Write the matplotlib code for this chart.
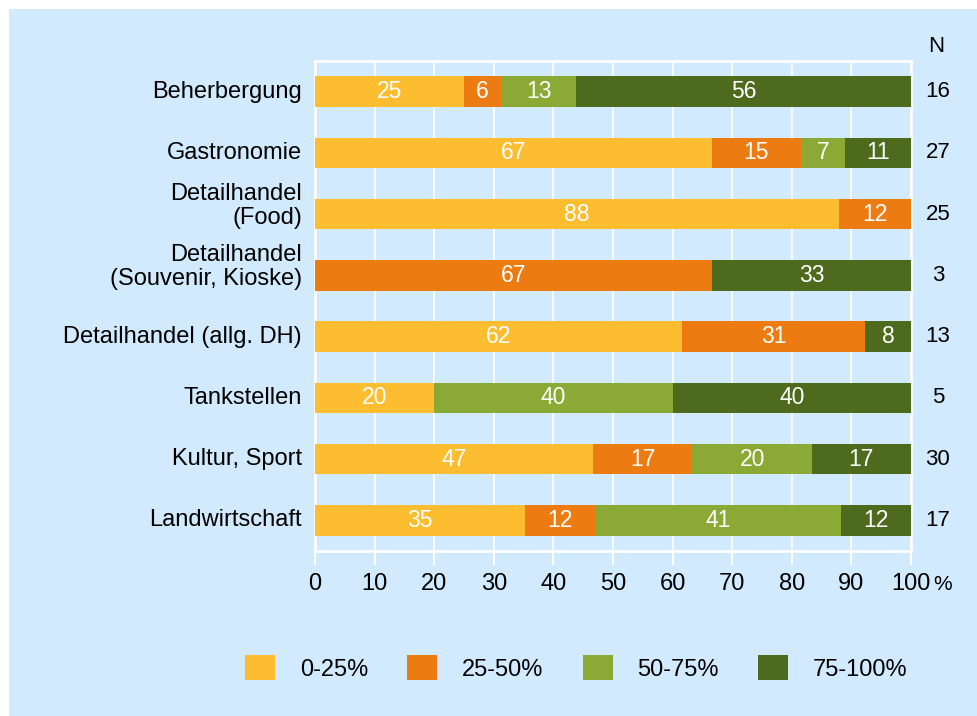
import matplotlib
matplotlib.use('Agg')
import matplotlib.pyplot as plt
from matplotlib.patches import Rectangle, Patch
import matplotlib.transforms as mtransforms
import numpy as np

# answers per category (counts), N = number of respondents
categories = ['Beherbergung', 'Gastronomie', 'Detailhandel\n(Food)',
              'Detailhandel\n(Souvenir, Kioske)', 'Detailhandel (allg. DH)',
              'Tankstellen', 'Kultur, Sport', 'Landwirtschaft']
n_total = [16, 27, 25, 3, 13, 5, 30, 17]
count_0_25 = [4, 18, 22, 0, 8, 1, 14, 6]
count_25_50 = [1, 4, 3, 2, 4, 0, 5, 2]
count_50_75 = [2, 2, 0, 0, 0, 2, 6, 7]
count_75_100 = [9, 3, 0, 1, 1, 2, 5, 2]
series_labels = ['0-25%', '25-50%', '50-75%', '75-100%']
colors = ['#FDBD30', '#EC7C11', '#8BAA35', '#4E6A1C']
bg = '#D1EAFD'

plt.rcParams['font.family'] = ['Liberation Sans', 'DejaVu Sans']
narrow = ['Liberation Sans Narrow', 'Liberation Sans', 'DejaVu Sans']

fig = plt.figure(figsize=(9.77, 7.16), dpi=100)
fig.patch.set_facecolor('white')
fig.add_artist(Rectangle((9 / 977, 0), 1 - 9 / 977, 1 - 9 / 716,
                         transform=fig.transFigure, facecolor=bg,
                         edgecolor='none', zorder=-10))

ax = fig.add_axes([315 / 977, 1 - 551 / 716, 596 / 977, 490 / 716])
ax.set_facecolor(bg)

y = np.arange(len(categories))
n_arr = np.array(n_total, dtype=float)
left = np.zeros(len(categories))
for counts, col in zip([count_0_25, count_25_50, count_50_75, count_75_100], colors):
    pct = np.array(counts) / n_arr * 100
    ax.barh(y, pct, left=left, height=0.5, color=col, zorder=3)
    for yi, (l, p) in enumerate(zip(left, pct)):
        if p > 0:
            ax.text(l + p / 2, yi, str(int(np.floor(p + 0.5))), ha='center',
                    va='center', color='white', fontsize=16.5, zorder=4)
    left += pct

for yi, n in enumerate(n_total):
    ax.text(104.5, yi, str(n), ha='center', va='center', fontsize=16,
            clip_on=False)
ax.text(104.2, -0.74, 'N', ha='center', va='center', fontsize=16,
        clip_on=False)

ax.set_xlim(0, 100)
ax.set_ylim(len(categories) - 0.5, -0.5)
ax.set_xticks(np.arange(0, 101, 10))
ax.set_xticklabels([str(v) for v in range(0, 101, 10)], family=narrow,
                   fontsize=17)
ax.set_yticks([])

# category names; the two-line ones sit a bit higher
ylab = mtransforms.blended_transform_factory(ax.transAxes, ax.transData)
for yi, name in enumerate(categories):
    dy = -0.13 if '\n' in name else 0.0
    ax.text(-0.022, yi + dy, name, transform=ylab, ha='right',
            va='center', fontsize=17, linespacing=1.12, multialignment='right')

ax.tick_params(axis='x', length=10, width=1.5, color='white', pad=6)
ax.grid(axis='x', color='white', linewidth=1.2, zorder=1)
for s in ax.spines.values():
    s.set_color('white')
    s.set_linewidth(2)

trans = mtransforms.blended_transform_factory(ax.transData, ax.transAxes)
ax.text(103.8, -0.069, '%', transform=trans, ha='left', va='center',
        fontsize=15)

handles = [Patch(facecolor=c, edgecolor='none') for c in colors]
fig.legend(handles, series_labels, loc='center left',
           bbox_to_anchor=(245 / 977, 1 - 668 / 716), ncol=4, frameon=False,
           fontsize=17, handlelength=1.27, handleheight=1.23,
           handletextpad=1.06, columnspacing=1.65, borderpad=0,
           borderaxespad=0)

fig.savefig('out.png', dpi=100, facecolor=fig.get_facecolor())
